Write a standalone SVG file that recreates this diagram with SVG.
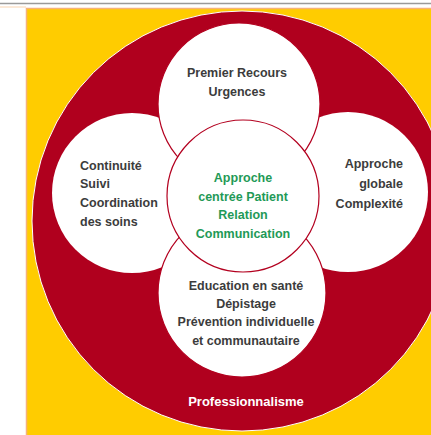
<svg xmlns="http://www.w3.org/2000/svg" width="431" height="435" viewBox="0 0 431 435">
<style>
.t{font-family:"Liberation Sans",Arial,sans-serif;font-size:12.5px;font-weight:bold;fill:#3c3c3c}
.g{fill:#1f9a57}
.w{fill:#ffffff;font-size:13px}
.c{fill:#ffffff;stroke:#b3001f;stroke-width:1.2}
.n{fill:#ffffff;stroke:none}
</style>
<rect x="0" y="0" width="431" height="435" fill="#ffffff"/>
<line x1="0" y1="3.5" x2="431" y2="3.5" stroke="#9a9a9a" stroke-width="1.5"/>
<line x1="0" y1="7" x2="26" y2="7" stroke="#f8d3b0" stroke-width="1"/>
<rect x="26.5" y="8.5" width="406" height="428" fill="#ffcc00" stroke="#f5b27a" stroke-width="1.5"/>
<g id="professionnalisme">
<circle cx="242" cy="221" r="210" fill="#b0001e" stroke="#ffffff" stroke-width="1"/>
<text class="t w" x="246" y="406" text-anchor="middle">Professionnalisme</text>
</g>
<g id="continuite">
<circle class="n" cx="132" cy="193" r="80"/>
</g>
<g id="globale">
<circle class="n" cx="348" cy="192" r="80"/>
</g>
<g id="premier-recours">
<circle class="c" cx="239" cy="104" r="81"/>
</g>
<g id="education">
<circle class="c" cx="242" cy="293" r="84"/>
</g>
<g id="centre">
<circle class="c" cx="243" cy="196" r="76"/>
</g>
<g id="labels">
<text class="t" x="237" y="77" text-anchor="middle">Premier Recours</text>
<text class="t" x="237" y="96" text-anchor="middle">Urgences</text>
<text class="t" x="80" y="170">Continuité</text>
<text class="t" x="80" y="188">Suivi</text>
<text class="t" x="80" y="207">Coordination</text>
<text class="t" x="80" y="226">des soins</text>
<text class="t" x="403" y="168" text-anchor="end">Approche</text>
<text class="t" x="403" y="188" text-anchor="end">globale</text>
<text class="t" x="403" y="208" text-anchor="end">Complexité</text>
<text class="t g" x="243" y="182" text-anchor="middle">Approche</text>
<text class="t g" x="243" y="201" text-anchor="middle">centrée Patient</text>
<text class="t g" x="243" y="219" text-anchor="middle">Relation</text>
<text class="t g" x="243" y="238" text-anchor="middle">Communication</text>
<text class="t" x="246" y="290" text-anchor="middle">Education en santé</text>
<text class="t" x="246" y="308" text-anchor="middle">Dépistage</text>
<text class="t" x="246" y="326" text-anchor="middle">Prévention individuelle</text>
<text class="t" x="246" y="345" text-anchor="middle">et communautaire</text>
</g>
<g id="connectors"></g>
</svg>
